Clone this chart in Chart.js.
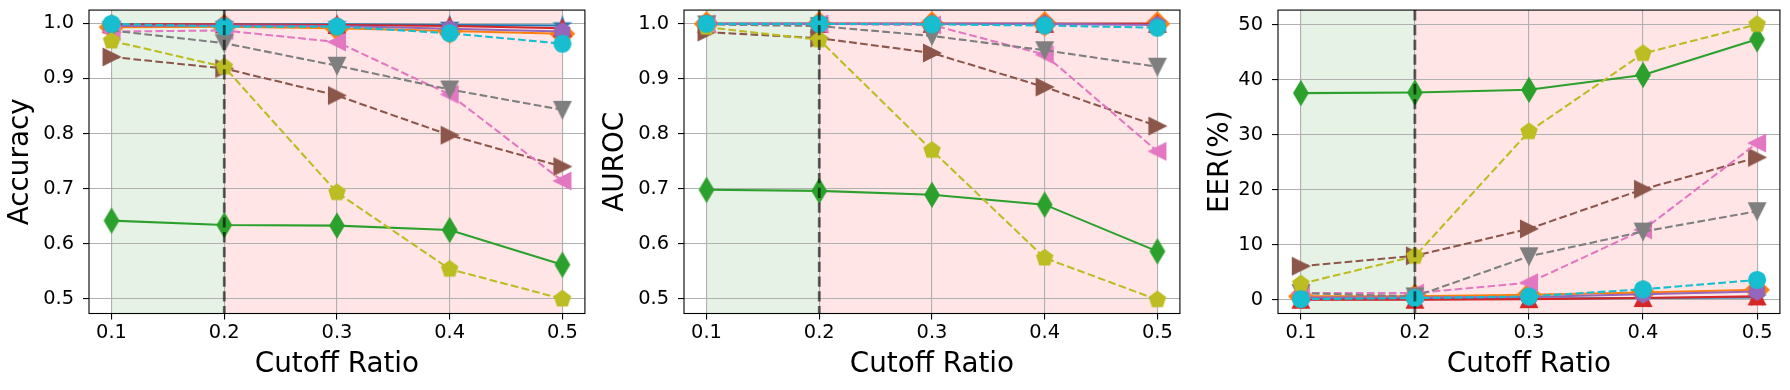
<!DOCTYPE html>
<html><head><meta charset="utf-8">
<script src="https://cdn.jsdelivr.net/npm/chart.js@4.4.1/dist/chart.umd.min.js"></script>
<style>
html,body{margin:0;padding:0;background:#fff;width:1790px;height:390px;overflow:hidden;position:relative;}
canvas{position:absolute;top:0;}
</style></head><body>
<canvas id="c1" width="595" height="390" style="left:0px"></canvas>
<canvas id="c2" width="595" height="390" style="left:595px"></canvas>
<canvas id="c3" width="601" height="390" style="left:1189px"></canvas>
<script>
// ---- data ----
const cutoffRatios = [0.1, 0.2, 0.3, 0.4, 0.5];
const xTickLabels = ['0.1', '0.2', '0.3', '0.4', '0.5'];
const scoreTicks = [0.5, 0.6, 0.7, 0.8, 0.9, 1.0];
const scoreTickLabels = ['0.5', '0.6', '0.7', '0.8', '0.9', '1.0'];
const eerTicks = [0, 10, 20, 30, 40, 50];
const eerTickLabels = ['0', '10', '20', '30', '40', '50'];

// Accuracy
const accBlue   = [0.998, 0.998, 0.998, 0.997, 0.996];
const accOrange = [0.993, 0.994, 0.991, 0.986, 0.981];
const accGreen  = [0.642, 0.634, 0.633, 0.625, 0.562];
const accRed    = [0.998, 0.998, 0.997, 0.995, 0.991];
const accPurple = [0.995, 0.996, 0.995, 0.990, 0.985];
const accBrown  = [0.939, 0.918, 0.869, 0.797, 0.740];
const accPink   = [0.985, 0.987, 0.966, 0.871, 0.714];
const accGray   = [0.987, 0.964, 0.923, 0.880, 0.843];
const accOlive  = [0.968, 0.921, 0.693, 0.554, 0.500];
const accCyan   = [0.999, 0.994, 0.994, 0.982, 0.963];

// AUROC
const aurocBlue   = [1.000, 1.000, 1.000, 1.000, 1.000];
const aurocOrange = [1.000, 1.000, 1.000, 1.000, 1.000];
const aurocGreen  = [0.698, 0.696, 0.689, 0.671, 0.586];
const aurocRed    = [1.000, 1.000, 1.000, 1.000, 1.000];
const aurocPurple = [1.000, 1.000, 1.000, 1.000, 0.998];
const aurocBrown  = [0.985, 0.974, 0.947, 0.885, 0.814];
const aurocPink   = [1.000, 1.000, 0.998, 0.944, 0.768];
const aurocGray   = [0.999, 0.996, 0.978, 0.952, 0.922];
const aurocOlive  = [0.994, 0.971, 0.770, 0.574, 0.498];
const aurocCyan   = [1.000, 1.000, 0.999, 0.997, 0.993];

// EER (%)
const eerBlue   = [0.1, 0.1, 0.2, 0.3, 0.4];
const eerOrange = [0.6, 0.6, 0.9, 1.3, 1.8];
const eerGreen  = [37.6, 37.7, 38.2, 40.9, 47.4];
const eerRed    = [0.0, 0.0, 0.1, 0.3, 0.6];
const eerPurple = [0.4, 0.4, 0.5, 1.0, 1.5];
const eerBrown  = [6.1, 8.0, 12.9, 20.1, 25.9];
const eerPink   = [1.2, 1.2, 3.1, 12.7, 28.5];
const eerGray   = [1.2, 0.6, 7.9, 12.4, 16.1];
const eerOlive  = [2.9, 7.9, 30.6, 44.8, 50.1];
const eerCyan   = [0.1, 0.3, 0.6, 1.9, 3.6];

// ---- styles ----
const styles = [
  {color:'#1f77b4', marker:'*', dash:false},
  {color:'#ff7f0e', marker:'D', dash:false},
  {color:'#2ca02c', marker:'d', dash:false},
  {color:'#d62728', marker:'^', dash:false},
  {color:'#9467bd', marker:'h', dash:false},
  {color:'#8c564b', marker:'>', dash:true},
  {color:'#e377c2', marker:'<', dash:true},
  {color:'#7f7f7f', marker:'v', dash:true},
  {color:'#bcbd22', marker:'p', dash:true},
  {color:'#17becf', marker:'o', dash:true}
];

function makeMarker(shape, color) {
  const S = 16.7, R = S / 2, c = document.createElement('canvas');
  c.width = 32; c.height = 32;
  const g = c.getContext('2d'), o = 16;
  g.fillStyle = color; g.strokeStyle = color; g.lineWidth = 1.4; g.lineJoin = 'miter';
  g.beginPath();
  const poly = pts => { pts.forEach(([x, y], i) => i ? g.lineTo(o + x, o - y) : g.moveTo(o + x, o - y)); g.closePath(); };
  const reg = (n, r) => { const p = []; for (let k = 0; k < n; k++) { const a = Math.PI / 2 + 2 * Math.PI * k / n; p.push([r * Math.cos(a), r * Math.sin(a)]); } poly(p); };
  const h = S * Math.SQRT1_2;
  switch (shape) {
    case 'o': g.arc(o, o, R, 0, 2 * Math.PI); break;
    case '^': poly([[0, R], [-R, -R], [R, -R]]); break;
    case 'v': poly([[0, -R], [-R, R], [R, R]]); break;
    case '>': poly([[R, 0], [-R, R], [-R, -R]]); break;
    case '<': poly([[-R, 0], [R, R], [R, -R]]); break;
    case 'D': poly([[0, h], [h, 0], [0, -h], [-h, 0]]); break;
    case 'd': poly([[0, h], [0.6 * h, 0], [0, -h], [-0.6 * h, 0]]); break;
    case 'p': reg(5, R); break;
    case 'h': reg(6, R); break;
    case '*': {
      const p = [];
      for (let k = 0; k < 10; k++) { const r = k % 2 ? R * 0.381966 : R; const a = Math.PI / 2 + Math.PI * k / 5; p.push([r * Math.cos(a), r * Math.sin(a)]); }
      poly(p); break;
    }
  }
  g.fill(); g.stroke();
  return c;
}

const FONT = 'DejaVu Sans';
Chart.defaults.font.family = FONT;
Chart.defaults.color = '#000';

const decor = {
  id: 'decor',
  beforeDraw(chart) {
    const {ctx, chartArea: a, scales: {x}} = chart;
    ctx.save();
    ctx.fillStyle = 'rgba(0,128,0,0.1)';
    ctx.fillRect(x.getPixelForValue(0.1), a.top, x.getPixelForValue(0.2) - x.getPixelForValue(0.1), a.bottom - a.top);
    ctx.fillStyle = 'rgba(255,0,0,0.1)';
    ctx.fillRect(x.getPixelForValue(0.2), a.top, x.getPixelForValue(0.5) - x.getPixelForValue(0.2), a.bottom - a.top);
    ctx.restore();
  },
  afterDatasetsDraw(chart) {
    const {ctx, chartArea: a, scales: {x}} = chart;
    const px = x.getPixelForValue(0.2);
    ctx.save();
    ctx.strokeStyle = 'rgba(0,0,0,0.6)';
    ctx.lineWidth = 2.8;
    ctx.setLineDash([10.3, 4.5]);
    ctx.beginPath(); ctx.moveTo(px, a.top); ctx.lineTo(px, a.bottom); ctx.stroke();
    ctx.restore();
  },
  afterDraw(chart) {
    const {ctx, chartArea: a} = chart;
    ctx.save();
    ctx.strokeStyle = '#000'; ctx.lineWidth = 1.1;
    ctx.strokeRect(a.left, a.top, a.right - a.left, a.bottom - a.top);
    ctx.restore();
  }
};

function buildChart(id, series, yMin, yMax, yTicks, yLabels, yTitle, rightPad, titlePad) {
  const datasets = series.map((vals, i) => {
    const st = styles[i];
    return {
      data: vals.map((v, k) => ({x: cutoffRatios[k], y: v})),
      borderColor: st.color,
      backgroundColor: st.color,
      borderWidth: 2.08,
      borderDash: st.dash ? [7.7, 3.3] : [],
      pointStyle: makeMarker(st.marker, st.color),
      pointRadius: 8,
      pointHoverRadius: 8,
      tension: 0,
      order: 9 - i,
      clip: false
    };
  });
  return new Chart(document.getElementById(id), {
    type: 'line',
    data: {datasets},
    options: {
      responsive: false,
      animation: false,
      events: [],
      layout: {padding: {top: 10, right: rightPad, left: 0, bottom: 0}},
      plugins: {legend: {display: false}, tooltip: {enabled: false}},
      scales: {
        x: {
          type: 'linear', min: 0.08, max: 0.52,
          afterBuildTicks: s => { s.ticks = cutoffRatios.map(v => ({value: v})); },
          afterFit: s => { s.height = 76.5; s.paddingLeft = 0; s.paddingRight = 0; s.paddingTop = 0; s.paddingBottom = 0; },
          ticks: {autoSkip: false, maxRotation: 0, padding: 2, font: {size: 19.4}, color: '#000',
                  callback: (v, i) => xTickLabels[i]},
          grid: {color: '#b0b0b0', lineWidth: 1.1, tickColor: '#000', tickWidth: 1.1, tickLength: 6, drawTicks: true},
          border: {display: false},
          title: {display: true, text: 'Cutoff Ratio', font: {size: 27.8}, color: '#000', padding: {top: 0, bottom: 9}}
        },
        y: {
          type: 'linear', min: yMin, max: yMax,
          afterBuildTicks: s => { s.ticks = yTicks.map(v => ({value: v})); },
          afterFit: s => { s.width = 89; s.paddingLeft = 0; s.paddingRight = 0; s.paddingTop = 0; s.paddingBottom = 0; },
          ticks: {autoSkip: false, padding: 9, font: {size: 19.4}, color: '#000',
                  callback: (v, i) => yLabels[i]},
          grid: {color: '#b0b0b0', lineWidth: 1.1, tickColor: '#000', tickWidth: 1.1, tickLength: 6, drawTicks: true},
          border: {display: false},
          title: {display: true, text: yTitle, font: {size: 27.8}, color: '#000', padding: {top: titlePad, bottom: 0}}
        }
      }
    },
    plugins: [decor]
  });
}

buildChart('c1', [accBlue, accOrange, accGreen, accRed, accPurple, accBrown, accPink, accGray, accOlive, accCyan],
  0.4735, 1.024, scoreTicks, scoreTickLabels, 'Accuracy', 4, 4);
buildChart('c2', [aurocBlue, aurocOrange, aurocGreen, aurocRed, aurocPurple, aurocBrown, aurocPink, aurocGray, aurocOlive, aurocCyan],
  0.4729, 1.0251, scoreTicks, scoreTickLabels, 'AUROC', 5.5, 4);
buildChart('c3', [eerBlue, eerOrange, eerGreen, eerRed, eerPurple, eerBrown, eerPink, eerGray, eerOlive, eerCyan],
  -2.51, 52.71, eerTicks, eerTickLabels, 'EER(%)', 10, 15);
</script>
</body></html>
